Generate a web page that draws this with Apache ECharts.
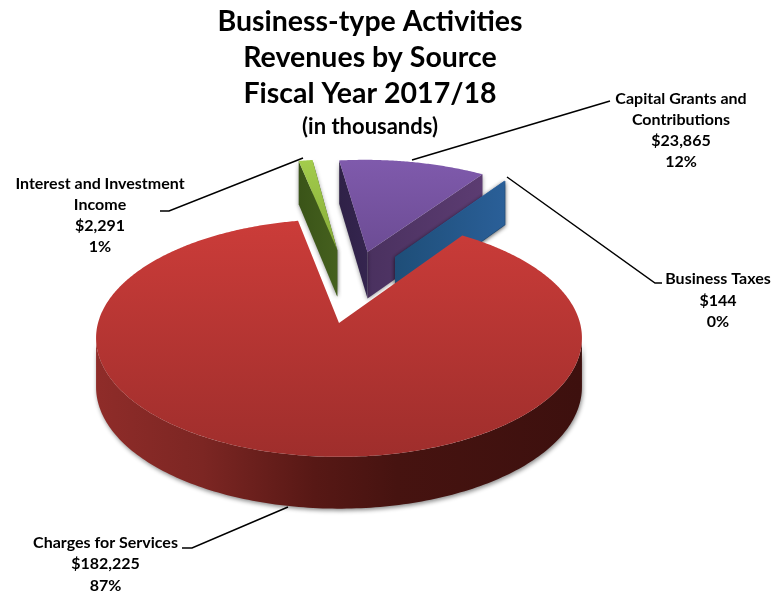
<!DOCTYPE html>
<html>
<head>
<meta charset="utf-8">
<style>html,body{margin:0;padding:0;background:#fff}#c{width:772px;height:597px}</style>
<script src="https://cdn.jsdelivr.net/npm/echarts@6/dist/echarts.min.js"></script>
</head>
<body>
<div id="c"></div>
<script>
// ---- data ----
const categories = ['Charges for Services', 'Interest and Investment Income', 'Capital Grants and Contributions', 'Business Taxes'];
const values = [182225, 2291, 23865, 144];
const percents = ['87%', '1%', '12%', '0%'];
const titleLines = ['Business-type Activities', 'Revenues by Source', 'Fiscal Year 2017/18'];
const subtitle = '(in thousands)';

// ---- style / layout ----
const FONT = 'Lato, "Open Sans", sans-serif';
const START_ANGLE = 34.4;
const proj = {cx: 339, cy: 323, A: 241, B: 117, k: 0.126, d0: 48.6, d1: 3.2};
const explode = [[0, 0], [-0.008, 0.677], [0.128, 0.657], [0.25, 0.607]];
const radiusScale = [1, 1.02, 1.035, 1];
const drawOrder = [40, 10, 20, 30];
const labelLayout = [
  {lines: ['Charges for Services'], x: 105.5, ys: [543, 564, 586]},
  {lines: ['Interest and Investment', 'Income'], x: 100, ys: [184, 205, 226, 247]},
  {lines: ['Capital Grants and', 'Contributions'], x: 681, ys: [99, 120, 141, 162]},
  {lines: ['Business Taxes'], x: 718, ys: [279, 301, 322]}
];
const leaders = [
  [[182, 548], [192, 548], [288, 507]],
  [[160, 211], [169, 211], [303, 158]],
  [[412, 160], [610, 101]],
  [[507, 177], [655, 283], [662, 283]]
];
const LG = echarts.graphic.LinearGradient;
const blueWall = () => new LG(0, 0, 1, 0, [{offset: 0, color: '#1e4e78'}, {offset: 1, color: '#2a5f98'}]);
const palette = [
  {
    top: new LG(0, 0, 0, 1, [{offset: 0, color: '#cb3c39'}, {offset: 1, color: '#9f2e2c'}]),
    rim: new LG(0, 0, 1, 0, [
      {offset: 0, color: '#8f2c29'}, {offset: 0.22, color: '#7c2623'},
      {offset: 0.45, color: '#571815'}, {offset: 0.62, color: '#461310'}, {offset: 1, color: '#3d100e'}])
  },
  {
    top: new LG(0, 0, 0, 1, [{offset: 0, color: '#a3cc4c'}, {offset: 1, color: '#86ab38'}]),
    wallA: new LG(0, 0, 1, 0, [{offset: 0, color: '#3a5418'}, {offset: 1, color: '#45601e'}]),
    wallB: '#3a5418'
  },
  {
    top: new LG(0, 0, 0, 1, [{offset: 0, color: '#7f5aac'}, {offset: 1, color: '#6c4c94'}]),
    wallA: new LG(0, 0, 1, 0, [{offset: 0, color: '#2f2147'}, {offset: 1, color: '#35254f'}]),
    wallB: new LG(0, 0, 1, 0, [{offset: 0, color: '#4a315f'}, {offset: 1, color: '#5c3c72'}])
  },
  {top: '#2c62a0', wallA: blueWall(), wallB: blueWall()}
];

// ---- geometry: pie disc projected with perspective ----
function project(u, v, lower) {
  const w = 1 + proj.k * v;
  const d = lower ? proj.d0 - proj.d1 * v : 0;
  return [proj.cx + proj.A * u / w, proj.cy - proj.B * v / w + d];
}
const total = values.reduce((a, b) => a + b, 0);
const rad = a => a * Math.PI / 180;

function renderItem(params, api) {
  const i = params.dataIndex;
  let before = 0;
  for (let j = 0; j < i; j++) before += values[j];
  const a0 = START_ANGLE + before / total * 360;
  const a1 = a0 + api.value(0) / total * 360;
  const [ex, ey] = explode[i];
  const r = radiusScale[i];
  const rimPoint = (a, lower) => project(ex + r * Math.sin(rad(a)), ey + r * Math.cos(rad(a)), lower);
  const apex = lower => project(ex, ey, lower);
  const z = drawOrder[i];
  const pal = palette[i];
  const children = [];
  const shadow = {shadowBlur: 4, shadowColor: 'rgba(0,0,0,0.4)', shadowOffsetX: 0, shadowOffsetY: 1};

  // side walls of the wedge (the big slice's are turned away from the viewer)
  if (pal.wallA) {
    const wall = (a, fill, dz) => children.push({
      type: 'polygon', z2: z + dz,
      shape: {points: [apex(false), rimPoint(a, false), rimPoint(a, true), apex(true)]},
      style: Object.assign({fill: fill}, shadow), silent: true
    });
    wall(a1, pal.wallB, 1);
    wall(a0, pal.wallA, 2);
  }
  // outer wall: only the front-facing part of the rim
  if (pal.rim) {
    const upper = [], lower = [];
    for (let a = a0; a <= a1; a += 1) {
      const v = Math.cos(rad(a));
      if (v < -proj.k) { upper.push(rimPoint(a, false)); lower.push(rimPoint(a, true)); }
    }
    children.push({
      type: 'polygon', z2: z + 1,
      shape: {points: upper.concat(lower.reverse())},
      style: Object.assign({fill: pal.rim}, {shadowBlur: 4, shadowColor: 'rgba(0,0,0,0.45)', shadowOffsetX: 1, shadowOffsetY: 2}),
      silent: true
    });
  }
  // top surface
  const pts = [apex(false)];
  for (let a = a0; a < a1; a += 0.5) pts.push(rimPoint(a, false));
  pts.push(rimPoint(a1, false));
  children.push({type: 'polygon', z2: z + 3, shape: {points: pts}, style: {fill: pal.top}, silent: true});
  return {type: 'group', children: children};
}

// ---- annotations ----
const money = v => '$' + v.toLocaleString('en-US');
const graphics = [];
titleLines.forEach((t, i) => graphics.push({
  type: 'text', x: 370, y: [22, 58, 94][i], z: 10,
  style: {text: t, font: 'bold 28.5px ' + FONT, fill: '#000', textAlign: 'center', textVerticalAlign: 'middle'}
}));
graphics.push({
  type: 'text', x: 370, y: 127, z: 10,
  style: {text: subtitle, font: 'bold 22px ' + FONT, fill: '#000', textAlign: 'center', textVerticalAlign: 'middle'}
});
labelLayout.forEach((l, i) => {
  const rows = l.lines.concat([money(values[i]), percents[i]]);
  rows.forEach((t, r) => graphics.push({
    type: 'text', x: l.x, y: l.ys[r], z: 10,
    style: {text: t, font: 'bold 16px ' + FONT, fill: '#000', textAlign: 'center', textVerticalAlign: 'middle'}
  }));
});
leaders.forEach(p => graphics.push({
  type: 'polyline', z: 10, shape: {points: p}, style: {stroke: '#000', lineWidth: 1.5, fill: null}
}));

const chart = echarts.init(document.getElementById('c'), null, {renderer: 'canvas'});
chart.setOption({
  animation: false,
  backgroundColor: '#fff',
  series: [{
    type: 'custom',
    coordinateSystem: 'none',
    renderItem: renderItem,
    silent: true,
    clip: false,
    data: values.map((v, i) => ({name: categories[i], value: [v]}))
  }],
  graphic: graphics
});
</script>
</body>
</html>
